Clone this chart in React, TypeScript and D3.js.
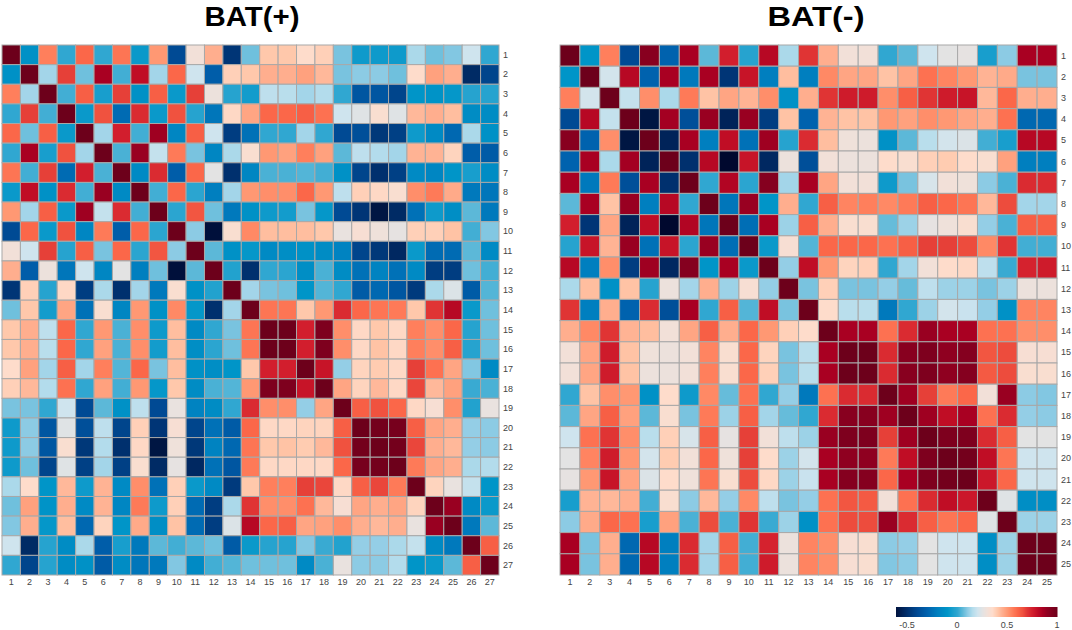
import React from "react";
import * as d3 from "d3";

// upper triangle of each correlation matrix, row by row, starting at the diagonal
const batPlusRows: number[][] = [
  [1, -0.12, 0.55, 0, 0.6, 0, 0.57, -0.08, 0.5, -0.4, 0.3, 0.45, -0.48, 0.07, 0.4, 0.4, 0.35, 0.38, 0.08, -0.07, -0.07, -0.07, 0.14, 0.07, 0.09, 0.2, 0],
  [1, 0.13, 0.68, 0.07, 0.85, 0.02, 0.8, 0.13, 0.6, 0.2, -0.32, 0.38, 0.4, 0.45, 0.45, 0.48, 0.43, 0.08, 0.1, 0.1, 0.07, 0.35, 0.48, 0.45, -0.52, -0.42],
  [1, 0.02, 0.62, -0.05, 0.68, -0.12, 0.62, -0.08, 0.68, 0.28, -0.02, -0.06, 0.17, 0.16, 0.13, 0.15, 0, -0.35, -0.35, -0.42, -0.1, -0.11, -0.09, -0.02, -0.02],
  [1, -0.08, 0.65, -0.27, 0.72, -0.08, 0.65, -0.02, -0.23, 0.36, 0.47, 0.6, 0.6, 0.62, 0.58, 0.2, 0.24, 0.33, 0.24, 0.43, 0.45, 0.42, -0.14, -0.14],
  [1, 0.13, 0.75, 0.02, 0.87, -0.17, 0.62, 0.2, -0.45, -0.25, 0, 0, 0.13, 0, -0.4, -0.38, -0.47, -0.44, -0.07, -0.15, -0.28, 0.14, -0.12],
  [1, 0.03, 0.88, 0.18, 0.56, 0.08, -0.17, 0.14, 0.33, 0.5, 0.48, 0.55, 0.48, 0.05, 0.17, 0.15, 0.13, 0.44, 0.44, 0.37, -0.32, -0.33],
  [1, -0.15, 0.72, -0.32, 0.6, 0.25, -0.5, -0.17, 0.03, 0.03, 0.04, 0.02, -0.12, -0.42, -0.5, -0.44, -0.15, -0.17, -0.1, -0.05, -0.14],
  [1, 0.02, 0.6, -0.01, -0.2, 0.13, 0.5, 0.52, 0.52, 0.6, 0.5, 0.17, 0.38, 0.36, 0.33, 0.52, 0.56, 0.46, -0.22, -0.23],
  [1, -0.01, 0.64, 0.07, -0.22, -0.12, -0.07, -0.06, 0.08, -0.09, -0.4, -0.48, -0.6, -0.52, -0.25, -0.07, -0.13, 0.05, -0.22],
  [1, 0.1, -0.62, 0.33, 0.53, 0.42, 0.42, 0.42, 0.4, 0.27, 0.32, 0.29, 0.26, 0.38, 0.38, 0.41, 0.02, 0.09],
  [1, 0.05, -0.12, -0.09, -0.15, -0.13, -0.12, -0.14, -0.18, -0.42, -0.47, -0.53, -0.08, -0.27, -0.27, 0.05, -0.15],
  [1, -0.03, -0.5, 0, -0.01, -0.13, 0.03, -0.14, -0.25, -0.18, -0.25, -0.15, -0.45, -0.45, 0.07, 0.02],
  [1, 0.13, 0.08, 0.07, -0.1, 0.04, 0, -0.33, -0.28, -0.35, -0.46, 0.14, 0.23, -0.33, 0.04],
  [1, 0.57, 0.57, 0.4, 0.5, 0.72, 0.6, 0.57, 0.56, 0.4, 0.7, 0.82, -0.08, 0.07],
  [1, 1, 0.75, 0.95, 0.52, 0.36, 0.4, 0.36, 0.55, 0.52, 0.6, -0.02, 0.07],
  [1, 0.75, 0.95, 0.52, 0.36, 0.41, 0.36, 0.55, 0.52, 0.62, -0.02, 0.07],
  [1, 0.78, 0.11, 0.37, 0.39, 0.36, 0.68, 0.58, 0.47, 0.09, -0.15],
  [1, 0.47, 0.37, 0.43, 0.36, 0.67, 0.43, 0.48, 0.01, 0.03],
  [1, 0.62, 0.65, 0.6, 0.36, 0.32, 0.52, -0.03, 0.27],
  [1, 0.98, 0.97, 0.62, 0.47, 0.45, 0.11, 0.1],
  [1, 0.98, 0.67, 0.45, 0.43, 0.11, 0.1],
  [1, 0.56, 0.47, 0.45, 0.14, 0.15],
  [1, 0.37, 0.27, 0.18, -0.1],
  [1, 0.88, -0.15, -0.08],
  [1, -0.22, 0.05],
  [1, 0.62],
  [1],
];

const batMinusRows: number[][] = [
  [1, -0.1, 0.55, -0.4, 0.92, -0.3, 0.85, 0.05, 0.75, -0.02, 0.82, 0.14, 0.7, 0.45, 0.3, 0.3, 0, 0.05, 0.2, 0.25, 0.26, -0.05, 0.1, 0.85, 0.85],
  [1, 0.21, 0.82, -0.3, 0.85, -0.22, 0.85, -0.48, 0.78, -0.2, 0.42, -0.2, 0.53, 0.47, 0.47, 0.41, 0.47, 0.58, 0.54, 0.5, 0.44, 0.46, 0.08, 0.08],
  [1, 0.18, 0.52, 0.14, 0.56, 0.41, 0.47, 0.44, 0.52, -0.12, 0.45, 0.7, 0.76, 0.76, 0.52, 0.62, 0.7, 0.76, 0.78, 0.43, 0.6, 0.45, 0.45],
  [1, -0.6, 0.86, -0.38, 0.88, -0.55, 0.88, -0.45, 0.41, -0.3, 0.44, 0.41, 0.41, 0.5, 0.48, 0.52, 0.5, 0.47, 0.45, 0.58, -0.28, -0.28],
  [1, -0.55, 0.85, -0.2, 0.8, -0.25, 0.87, -0.02, 0.72, 0.42, 0.29, 0.28, -0.12, 0.05, 0.16, 0.21, 0.23, 0.02, -0.05, 0.82, 0.82],
  [1, -0.5, 0.82, -0.65, 0.78, -0.53, 0.28, -0.38, 0.3, 0.28, 0.28, 0.35, 0.33, 0.38, 0.39, 0.35, 0.33, 0.48, -0.2, -0.2],
  [1, 0, 0.83, -0.01, 0.93, 0.13, 0.85, 0.47, 0.3, 0.3, -0.07, 0.08, 0.22, 0.3, 0.29, 0.1, 0.03, 0.72, 0.72],
  [1, -0.23, 0.88, -0.1, 0.45, 0, 0.62, 0.54, 0.55, 0.53, 0.56, 0.62, 0.6, 0.57, 0.43, 0.66, 0.13, 0.13],
  [1, -0.26, 0.85, 0.12, 0.62, 0.45, 0.33, 0.33, 0.06, 0.12, 0.26, 0.29, 0.33, 0.11, 0.03, 0.62, 0.62],
  [1, -0.08, 0.32, 0.04, 0.6, 0.6, 0.6, 0.58, 0.62, 0.68, 0.68, 0.66, 0.53, 0.7, 0.02, 0.02],
  [1, 0.11, 0.8, 0.5, 0.37, 0.38, 0, 0.13, 0.3, 0.35, 0.36, 0.17, 0.01, 0.74, 0.76],
  [1, 0.08, 0.38, 0.08, 0.08, 0.11, 0.06, 0.17, 0.12, 0.12, 0.08, 0.12, 0.28, 0.28],
  [1, 0.35, 0.16, 0.16, -0.22, 0, 0.12, 0.21, 0.19, 0.11, -0.12, 0.54, 0.54],
  [1, 0.85, 0.85, 0.58, 0.72, 0.88, 0.85, 0.85, 0.58, 0.58, 0.52, 0.52],
  [1, 1, 0.72, 0.92, 0.95, 0.9, 0.93, 0.64, 0.66, 0.32, 0.32],
  [1, 0.72, 0.92, 0.95, 0.9, 0.93, 0.63, 0.66, 0.33, 0.33],
  [1, 0.87, 0.68, 0.56, 0.6, 0.3, 0.88, 0.1, 0.09],
  [1, 0.87, 0.8, 0.85, 0.58, 0.72, 0.11, 0.1],
  [1, 0.95, 0.95, 0.72, 0.62, 0.25, 0.25],
  [1, 0.98, 0.8, 0.57, 0.2, 0.2],
  [1, 0.77, 0.6, 0.2, 0.2],
  [1, 0.24, -0.13, -0.13],
  [1, 0.12, 0.12],
  [1, 1],
  [1],
];

const legendTicks = [-0.5, 0, 0.5, 1];
const legendMin = -0.61;

const colorStops = [-0.61, -0.5, -0.4, -0.3, -0.2, -0.1, 0, 0.05, 0.1, 0.15, 0.2, 0.25, 0.3, 0.35, 0.4, 0.45, 0.5, 0.55, 0.6, 0.65, 0.7, 0.75, 0.8, 0.85, 0.9, 1];
const colorValues = ["#00133f", "#00306e", "#004a94", "#0062ae", "#007fbf", "#0095c8", "#30a7d1", "#5cb8d8", "#8ccbe4", "#b3dcec", "#cfe4ee", "#e3e3e3", "#f2e0d8", "#fedccb", "#ffc8ab", "#ffae8e", "#ff9873", "#ff7f5c", "#fb6749", "#f0523f", "#e03434", "#d21e2d", "#c00d25", "#a90022", "#8f0020", "#6d001b"];

const color = d3.scaleLinear<string>().domain(colorStops).range(colorValues).interpolate(d3.interpolateRgb);

const WIDTH = 1072;
const HEIGHT = 630;
const FONT = "'Liberation Sans', Arial, sans-serif";

interface HeatmapProps {
  rows: number[][];
  title: string;
  titleX: number;
  titleWidth: number;
  x0: number;
  x1: number;
}

const Heatmap: React.FC<HeatmapProps> = ({ rows, title, titleX, titleWidth, x0, x1 }) => {
  const labels = rows.map((_, i) => String(i + 1));
  const xScale = d3.scaleBand().domain(labels).range([x0, x1]);
  const yScale = d3.scaleBand().domain(labels).range([45, 575]);
  const cells: { row: string; col: string; value: number }[] = [];
  rows.forEach((r, i) => {
    r.forEach((value, k) => {
      cells.push({ row: labels[i], col: labels[i + k], value });
      if (k > 0) cells.push({ row: labels[i + k], col: labels[i], value });
    });
  });

  return (
    <g>
      <text
        x={titleX}
        y={26}
        textAnchor="middle"
        fontFamily={FONT}
        fontWeight="bold"
        fontSize={28}
        fill="#000"
        textLength={titleWidth}
        lengthAdjust="spacingAndGlyphs"
      >
        {title}
      </text>
      {cells.map((c) => (
        <rect
          key={`${c.row}-${c.col}`}
          x={xScale(c.col)}
          y={yScale(c.row)}
          width={xScale.bandwidth()}
          height={yScale.bandwidth()}
          fill={color(c.value)}
          stroke="#a8a8a8"
          strokeWidth={1}
        />
      ))}
      {labels.map((l) => (
        <text key={`x${l}`} x={xScale(l)! + xScale.bandwidth() / 2} y={585} textAnchor="middle" fontFamily={FONT} fontSize={9} fill="#444">
          {l}
        </text>
      ))}
      {labels.map((l) => (
        <text key={`y${l}`} x={x1 + 4} y={yScale(l)! + yScale.bandwidth() / 2 + 3} fontFamily={FONT} fontSize={9} fill="#444">
          {l}
        </text>
      ))}
    </g>
  );
};

const Legend: React.FC = () => {
  const scale = d3.scaleLinear().domain([legendMin, 1]).range([896, 1057]);
  const steps = d3.range(legendMin, 1, 0.01);
  return (
    <g>
      {steps.map((v) => (
        <rect key={v} x={scale(v)} y={607} width={scale(v + 0.01) - scale(v) + 0.5} height={10} fill={color(v)} />
      ))}
      {legendTicks.map((t) => (
        <text key={t} x={scale(t)} y={628} textAnchor="middle" fontFamily={FONT} fontSize={9} fill="#444">
          {t}
        </text>
      ))}
    </g>
  );
};

export default function App() {
  return (
    <svg width={WIDTH} height={HEIGHT} style={{ position: "absolute", left: 0, top: 0, background: "#fff" }}>
      <Heatmap rows={batPlusRows} title="BAT(+)" titleX={252} titleWidth={95} x0={2} x1={499} />
      <Heatmap rows={batMinusRows} title="BAT(-)" titleX={816} titleWidth={97} x0={560} x1={1057} />
      <Legend />
    </svg>
  );
}
